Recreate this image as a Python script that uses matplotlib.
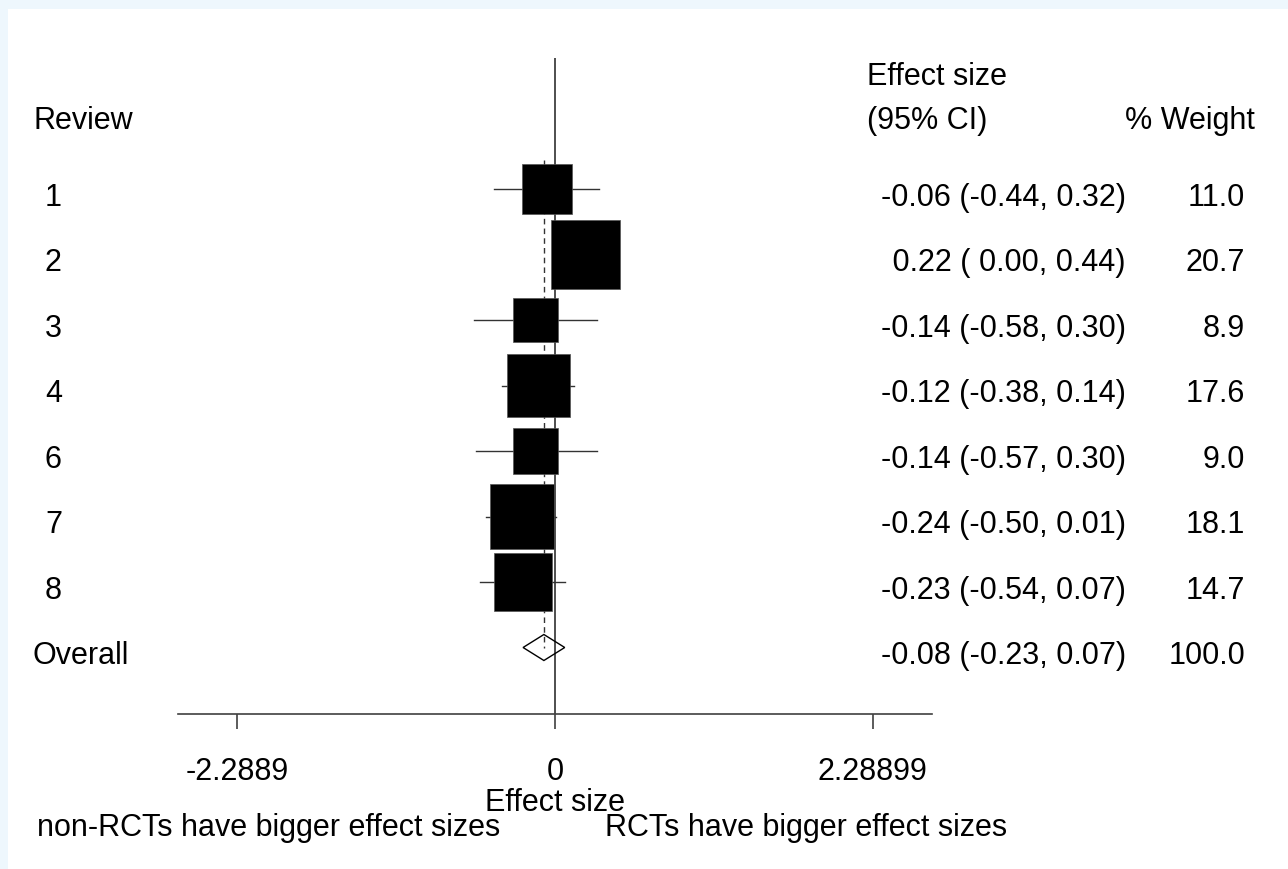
import matplotlib
matplotlib.use("Agg")
import matplotlib.pyplot as plt
from matplotlib.patches import Rectangle, Polygon
from matplotlib.transforms import blended_transform_factory
import numpy as np

plt.rcParams['font.family'] = ['Liberation Sans', 'DejaVu Sans']

# ---- data ----
reviews = ["1", "2", "3", "4", "6", "7", "8"]
effect = [-0.06, 0.22, -0.14, -0.12, -0.14, -0.24, -0.23]
ci_low = [-0.44, 0.00, -0.58, -0.38, -0.57, -0.50, -0.54]
ci_high = [0.32, 0.44, 0.30, 0.14, 0.30, 0.01, 0.07]
weights = [11.0, 20.7, 8.9, 17.6, 9.0, 18.1, 14.7]
overall_label = "Overall"
overall_es = -0.08
overall_low = -0.23
overall_high = 0.07
overall_weight = 100.0
xticks = [-2.2889, 0, 2.28899]
xtick_labels = ["-2.2889", "0", "2.28899"]

W, H = 1288, 870
fig = plt.figure(figsize=(W / 100, H / 100), dpi=100)
fig.patch.set_facecolor('#eef7fd')
fig.patches.append(Rectangle((8 / W, 0), 1 - 8 / W, 1 - 10 / H, transform=fig.transFigure,
                             facecolor='white', edgecolor='none', zorder=-10))

ax_left, ax_right, ax_top, ax_bot = 178, 932, 59, 715
ax = fig.add_axes([ax_left / W, 1 - ax_bot / H, (ax_right - ax_left) / W, (ax_bot - ax_top) / H])
ax.set_facecolor('none')
xscale = 138.8
ax.set_xlim(-(555 - ax_left) / xscale, (ax_right - 555) / xscale)
row_px = 65.5
def row_of(px):
    return 1 + (px - 190) / row_px
ax.set_ylim(row_of(ax_bot), row_of(ax_top))
base_off = 16 / row_px  # text baseline offset below row centre

n = len(reviews)
rows = np.arange(1, n + 1)
overall_row = n + 1

fs = 22
for s in ['top', 'left', 'right']:
    ax.spines[s].set_visible(False)
ax.spines['bottom'].set_color('#404040')
ax.spines['bottom'].set_linewidth(1.2)
ax.set_yticks([])
ax.set_xticks(xticks)
ax.set_xticklabels(xtick_labels, fontsize=fs)
ax.tick_params(axis='x', direction='out', length=11, width=1.2, color='#404040', pad=19)
ax.set_xlabel("Effect size", fontsize=fs, labelpad=1)

# null line
ax.axvline(0, color='#404040', lw=1.3, zorder=1)
# overall dashed line
ax.plot([overall_es, overall_es], [0.55, overall_row], color='#333333', lw=1.0,
        ls=(0, (4, 3)), zorder=1)

# CI lines
for r, lo, hi in zip(rows, ci_low, ci_high):
    ax.plot([lo, hi], [r, r], color='#333333', lw=1.0, zorder=2)

# boxes sized by weight
sizes = [(10.86 * np.sqrt(w)) ** 2 for w in weights]
ax.scatter(effect, rows, s=sizes, marker='s', color='black', edgecolors='#555555',
           linewidths=0.5, zorder=3)

# diamond
dh = 13 / row_px
ax.add_patch(Polygon([[overall_low, overall_row], [overall_es, overall_row - dh],
                      [overall_high, overall_row], [overall_es, overall_row + dh]],
                     closed=True, facecolor='none', edgecolor='black', lw=1.0, zorder=4))

# texts
tr = blended_transform_factory(fig.transFigure, ax.transData)
ax.text(33 / W, row_of(129), "Review", transform=tr, fontsize=fs, va='baseline', ha='left')
ax.text(867 / W, row_of(85), "Effect size", transform=tr, fontsize=fs, va='baseline', ha='left')
ax.text(867 / W, row_of(129), "(95% CI)", transform=tr, fontsize=fs, va='baseline', ha='left')
ax.text(1255 / W, row_of(129), "% Weight", transform=tr, fontsize=fs, va='baseline', ha='right')

for r, lab, es, lo, hi, w in zip(rows, reviews, effect, ci_low, ci_high, weights):
    ax.text(45 / W, r + base_off, lab, transform=tr, fontsize=fs, va='baseline', ha='left')
    txt = f"{es:5.2f} ({lo:5.2f}, {hi:4.2f})"
    ax.text(1126 / W, r + base_off, txt, transform=tr, fontsize=fs, va='baseline', ha='right')
    ax.text(1245 / W, r + base_off, f"{w:.1f}", transform=tr, fontsize=fs, va='baseline', ha='right')

ax.text(33 / W, overall_row + base_off, overall_label, transform=tr, fontsize=fs,
        va='baseline', ha='left')
ax.text(1126 / W, overall_row + base_off,
        f"{overall_es:5.2f} ({overall_low:5.2f}, {overall_high:4.2f})",
        transform=tr, fontsize=fs, va='baseline', ha='right')
ax.text(1245 / W, overall_row + base_off, f"{overall_weight:.1f}", transform=tr, fontsize=fs,
        va='baseline', ha='right')

fig.text(37 / W, 1 - 836 / H, "non-RCTs have bigger effect sizes", fontsize=fs,
         va='baseline', ha='left')
fig.text(605 / W, 1 - 836 / H, "RCTs have bigger effect sizes", fontsize=fs,
         va='baseline', ha='left')

fig.savefig("out.png", dpi=100, facecolor=fig.get_facecolor())
